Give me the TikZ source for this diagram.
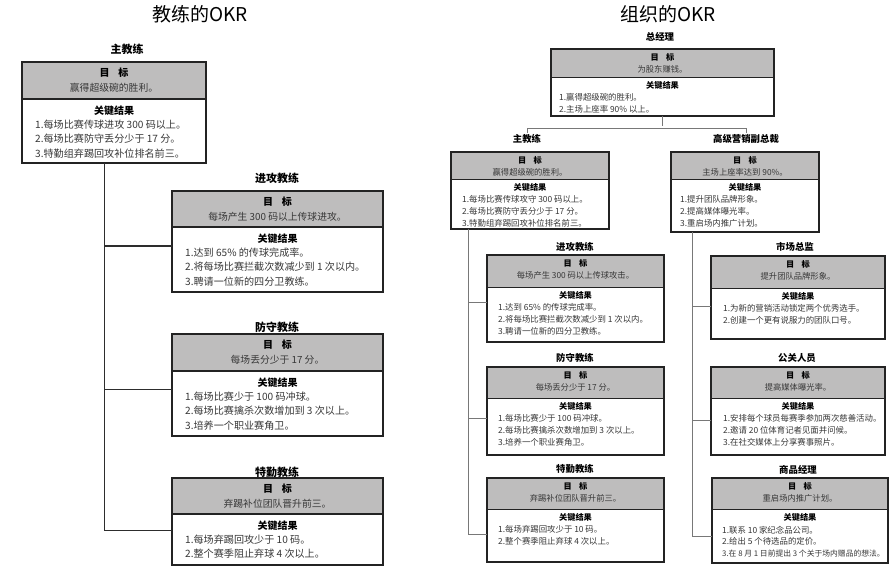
\documentclass[tikz,border=0pt]{standalone}
\usepackage{fontspec}
\setmainfont{Noto Sans CJK SC}
\usetikzlibrary{calc}
\definecolor{goalgray}{RGB}{190,189,189}
\definecolor{framec}{RGB}{35,35,35}
\definecolor{txtc}{RGB}{55,55,55}
\definecolor{lconnc}{RGB}{45,45,45}
\definecolor{rconnc}{RGB}{120,120,120}
\tikzset{
  gfill/.style={fill=goalgray, draw=none, inner sep=0pt, outer sep=0pt},
  frameL/.style={draw=framec, line width=1.3pt, inner sep=0pt, outer sep=0pt},
  frameR/.style={draw=framec, line width=1.1pt, inner sep=0pt, outer sep=0pt},
  divL/.style={draw=framec, line width=1.1pt},
  divR/.style={draw=framec, line width=0.9pt},
  headL/.style={inner sep=0pt, font=\fontsize{10}{12}\selectfont\bfseries, text=black},
  goalL/.style={inner sep=0pt, font=\fontsize{9.8}{12}\selectfont, text=txtc},
  krL/.style={inner sep=0pt, align=left, font=\fontsize{10.1}{14.4}\selectfont, text=txtc},
  headR/.style={inner sep=0pt, font=\fontsize{8.2}{10}\selectfont\bfseries, text=black},
  goalR/.style={inner sep=0pt, font=\fontsize{8.3}{10}\selectfont, text=txtc},
  krR/.style={inner sep=0pt, align=left, font=\fontsize{8.4}{11.8}\selectfont, text=txtc},
  lblL/.style={inner sep=1pt, font=\fontsize{11}{13}\selectfont\bfseries, text=black},
  lblR/.style={inner sep=1pt, font=\fontsize{9.4}{11}\selectfont\bfseries, text=black},
  ttl/.style={inner sep=0pt, font=\fontsize{19}{22}\selectfont, text=black},
  lconn/.style={draw=lconnc, line width=1.1pt},
  rconn/.style={draw=rconnc, line width=0.9pt},
}
% name, x1, y1, x2, ygray, y2, goal, lines, indent
\newcommand\okrL[9]{%
  \pgfmathsetmacro\okw{#4-#2}\pgfmathsetmacro\okh{#6-#3}\pgfmathsetmacro\okg{#5-#3}%
  \pgfmathsetmacro\okc{(#2+#4)/2}%
  \node[gfill, minimum width=\okw pt, minimum height=\okg pt, anchor=north west] (#1-g) at (#2,#3) {};
  \node[frameL, minimum width=\okw pt, minimum height=\okh pt, anchor=north west] (#1) at (#2,#3) {};
  \draw[divL] (#1-g.south west) -- (#1-g.south east);
  \node[headL] (#1-gh) at (\okc,#3+11) {目\hspace{0.9em}标};
  \node[goalL] (#1-gt) at (\okc,#3+26) {#7};
  \node[headL] (#1-kh) at (\okc,#5+11.5) {关键结果};
  \node[krL, anchor=north west] (#1-kt) at (#2+#9,#5+25.5-5.05) {#8};
}
\newcommand\okrR[9]{%
  \pgfmathsetmacro\okw{#4-#2}\pgfmathsetmacro\okh{#6-#3}\pgfmathsetmacro\okg{#5-#3}%
  \pgfmathsetmacro\okc{(#2+#4)/2}%
  \node[gfill, minimum width=\okw pt, minimum height=\okg pt, anchor=north west] (#1-g) at (#2,#3) {};
  \node[frameR, minimum width=\okw pt, minimum height=\okh pt, anchor=north west] (#1) at (#2,#3) {};
  \draw[divR] (#1-g.south west) -- (#1-g.south east);
  \node[headR] (#1-gh) at (\okc,#3+8.7) {目\hspace{0.9em}标};
  \node[goalR] (#1-gt) at (\okc,#3+20.7) {#7};
  \node[headR] (#1-kh) at (\okc,#5+8.7) {关键结果};
  \node[krR, anchor=north west] (#1-kt) at (#2+#9,#5+20.8-4.2) {#8};
}
\begin{document}
\begin{tikzpicture}[x=1pt,y=-1pt]
\useasboundingbox (0,0) rectangle (895,570);
\fill[white] (0,0) rectangle (895,570);

% ---------- left: 教练的OKR ----------
\node[ttl] (tL) at (200,14) {教练的OKR};
\node[lblL] (lL1) at (127,49) {主教练};
\node[lblL] (lL2) at (277,178) {进攻教练};
\node[lblL] (lL3) at (277,327) {防守教练};
\node[lblL] (lL4) at (277,472) {特勤教练};

\okrL{L1}{22}{62}{206}{99}{163}{赢得超级碗的胜利。}{1.每场比赛传球进攻 300 码以上。\\2.每场比赛防守丢分少于 17 分。\\3.特勤组弃踢回攻补位排名前三。}{13}
\okrL{L2}{172}{191}{383}{227}{292}{每场产生 300 码以上传球进攻。}{1.达到 65\% 的传球完成率。\\2.将每场比赛拦截次数减少到 1 次以内。\\3.聘请一位新的四分卫教练。}{13}
\okrL{L3}{172}{334}{383}{371}{436}{每场丢分少于 17 分。}{1.每场比赛少于 100 码冲球。\\2.每场比赛擒杀次数增加到 3 次以上。\\3.培养一个职业赛角卫。}{13}
\okrL{L4}{172}{478}{383}{514}{565}{弃踢补位团队晋升前三。}{1.每场弃踢回攻少于 10 码。\\2.整个赛季阻止弃球 4 次以上。}{13}

\coordinate (Ltrunk) at ($(L1.south west)!0.45!(L1.south east)$);
\draw[lconn] (Ltrunk) |- ($(L2.north west)!0.545!(L2.south west)$);
\draw[lconn] (Ltrunk) |- ($(L3.north west)!0.54!(L3.south west)$);
\draw[lconn] (Ltrunk) |- ($(L4.north west)!0.6!(L4.south west)$);

% ---------- right: 组织的OKR ----------
\node[ttl] (tR) at (668,14) {组织的OKR};
\node[lblR] (lR0) at (660,37) {总经理};
\node[lblR] (lRA) at (527,139) {主教练};
\node[lblR] (lRB) at (746,139) {高级营销副总裁};
\node[lblR] (lR11) at (575,247) {进攻教练};
\node[lblR] (lR12) at (575,358) {防守教练};
\node[lblR] (lR13) at (575,469) {特勤教练};
\node[lblR] (lR21) at (795,247) {市场总监};
\node[lblR] (lR22) at (797,358) {公关人员};
\node[lblR] (lR23) at (798,470) {商品经理};

\okrR{R0}{551}{49}{774}{77}{116}{为股东赚钱。}{1.赢得超级碗的胜利。\\2.主场上座率 90\% 以上。}{8}
\okrR{R1}{451}{152}{609}{179}{229}{赢得超级碗的胜利。}{1.每场比赛传球攻守 300 码以上。\\2.每场比赛防守丢分少于 17 分。\\3.特勤组弃踢回攻补位排名前三。}{11}
\okrR{R2}{671}{152}{819}{179}{232}{主场上座率达到 90\%。}{1.提升团队品牌形象。\\2.提高媒体曝光率。\\3.重启场内推广计划。}{9}
\okrR{R11}{487}{255}{664}{287}{342}{每场产生 300 码以上传球攻击。}{1.达到 65\% 的传球完成率。\\2.将每场比赛拦截次数减少到 1 次以内。\\3.聘请一位新的四分卫教练。}{11}
\okrR{R12}{487}{367}{664}{398}{455}{每场丢分少于 17 分。}{1.每场比赛少于 100 码冲球。\\2.每场比赛擒杀次数增加到 3 次以上。\\3.培养一个职业赛角卫。}{11}
\okrR{R13}{487}{478}{664}{509}{562}{弃踢补位团队晋升前三。}{1.每场弃踢回攻少于 10 码。\\2.整个赛季阻止弃球 4 次以上。}{11}
\okrR{R21}{711}{256}{885}{288}{339}{提升团队品牌形象。}{1.为新的营销活动锁定两个优秀选手。\\2.创建一个更有说服力的团队口号。}{12}
\okrR{R22}{711}{367}{885}{398}{455}{提高媒体曝光率。}{1.安排每个球员每赛季参加两次慈善活动。\\2.邀请 20 位体育记者见面并问候。\\3.在社交媒体上分享赛事照片。}{12}
\okrR{R23}{712}{478}{888}{509}{563}{重启场内推广计划。}{1.联系 10 家纪念品公司。\\2.给出 5 个待选品的定价。\\{\fontsize{7.8}{11.8}\selectfont 3.在 8 月 1 日前提出 3 个关于场内赠品的想法。}}{10}

\draw[rconn] (R0.south) -- ++(0,10);
\draw[rconn] (lRA.north) -- ++(0,-5) -| (lRB.north);

\coordinate (RtrunkA) at ($(R1.south west)!0.108!(R1.south east)$);
\draw[rconn] (RtrunkA) |- ($(R11.north west)!0.55!(R11.south west)$);
\draw[rconn] (RtrunkA) |- ($(R12.north west)!0.58!(R12.south west)$);
\draw[rconn] (RtrunkA) |- ($(R13.north west)!0.67!(R13.south west)$);

\coordinate (RtrunkB) at ($(R2.south west)!0.142!(R2.south east)$);
\draw[rconn] (RtrunkB) |- ($(R21.north west)!0.61!(R21.south west)$);
\draw[rconn] (RtrunkB) |- ($(R22.north west)!0.61!(R22.south west)$);
\draw[rconn] (RtrunkB) |- ($(R23.north west)!0.69!(R23.south west)$);
\end{tikzpicture}
\end{document}
